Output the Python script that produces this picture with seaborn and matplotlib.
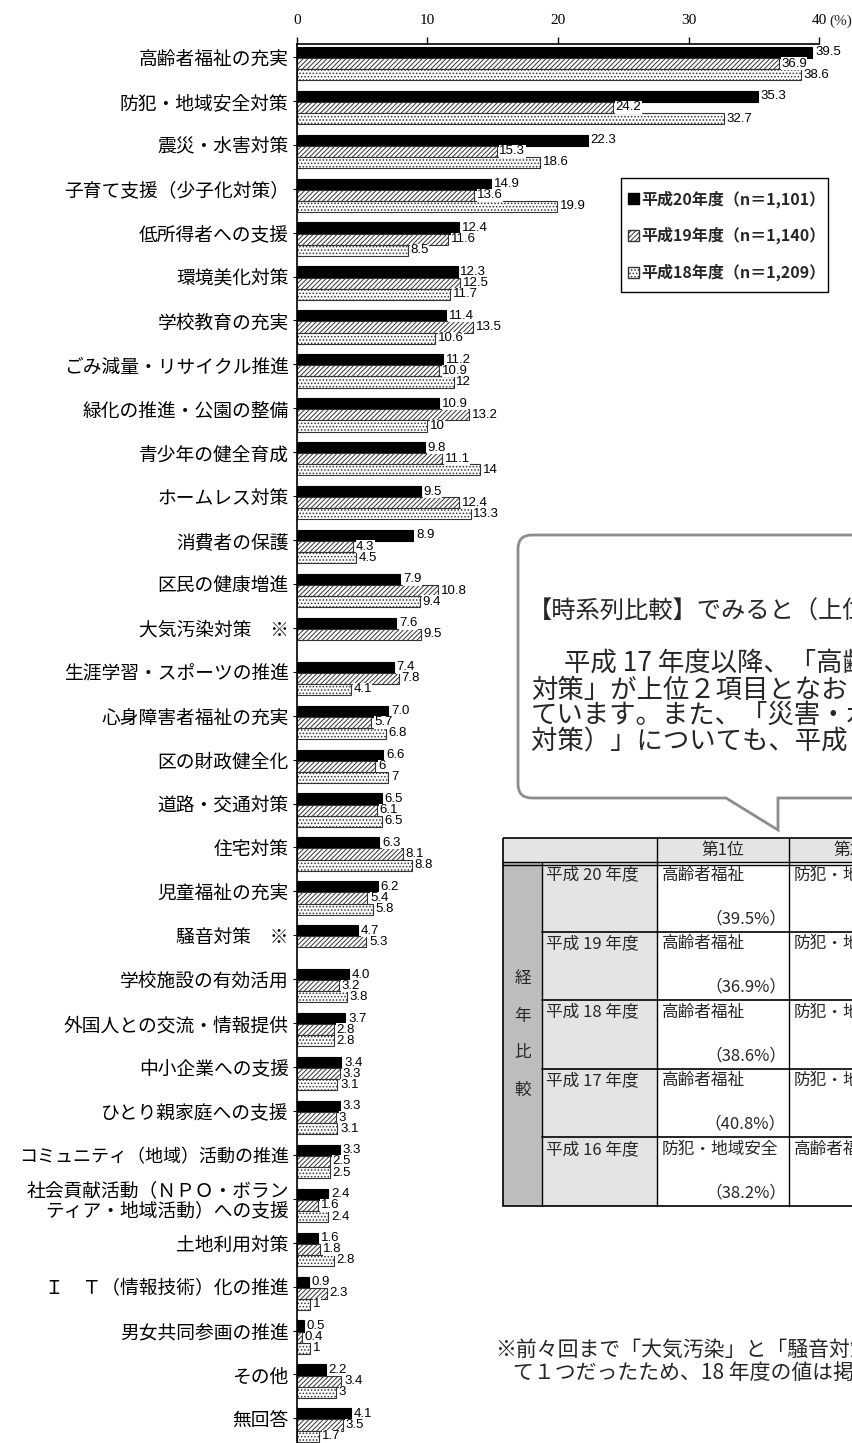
import numpy as np
import pandas as pd
import matplotlib
matplotlib.use("Agg")
import matplotlib.pyplot as plt
import seaborn as sns
from matplotlib.patches import Patch, Rectangle, PathPatch
from matplotlib.path import Path

# ---------------- data ----------------
items = [
    "高齢者福祉の充実", "防犯・地域安全対策", "震災・水害対策", "子育て支援（少子化対策）",
    "低所得者への支援", "環境美化対策", "学校教育の充実", "ごみ減量・リサイクル推進",
    "緑化の推進・公園の整備", "青少年の健全育成", "ホームレス対策", "消費者の保護",
    "区民の健康増進", "大気汚染対策　※", "生涯学習・スポーツの推進", "心身障害者福祉の充実",
    "区の財政健全化", "道路・交通対策", "住宅対策", "児童福祉の充実", "騒音対策　※",
    "学校施設の有効活用", "外国人との交流・情報提供", "中小企業への支援", "ひとり親家庭への支援",
    "コミュニティ（地域）活動の推進", "社会貢献活動（ＮＰＯ・ボラン\nティア・地域活動）への支援",
    "土地利用対策", "Ｉ　Ｔ（情報技術）化の推進", "男女共同参画の推進", "その他", "無回答",
]
v20 = [39.5, 35.3, 22.3, 14.9, 12.4, 12.3, 11.4, 11.2, 10.9, 9.8, 9.5, 8.9, 7.9, 7.6, 7.4, 7.0,
       6.6, 6.5, 6.3, 6.2, 4.7, 4.0, 3.7, 3.4, 3.3, 3.3, 2.4, 1.6, 0.9, 0.5, 2.2, 4.1]
v19 = [36.9, 24.2, 15.3, 13.6, 11.6, 12.5, 13.5, 10.9, 13.2, 11.1, 12.4, 4.3, 10.8, 9.5, 7.8, 5.7,
       6.0, 6.1, 8.1, 5.4, 5.3, 3.2, 2.8, 3.3, 3.0, 2.5, 1.6, 1.8, 2.3, 0.4, 3.4, 3.5]
v18 = [38.6, 32.7, 18.6, 19.9, 8.5, 11.7, 10.6, 12.0, 10.0, 14.0, 13.3, 4.5, 9.4, np.nan, 4.1, 6.8,
       7.0, 6.5, 8.8, 5.8, np.nan, 3.8, 2.8, 3.1, 3.1, 2.5, 2.4, 2.8, 1.0, 1.0, 3.0, 1.7]
years = ["平成20年度", "平成19年度", "平成18年度"]
legend_labels = ["平成20年度（n＝1,101）", "平成19年度（n＝1,140）", "平成18年度（n＝1,209）"]
x_ticks = [0, 10, 20, 30, 40]

callout_title = "【時系列比較】でみると（上位５項目）"
callout_lines = [
    "平成 17 年度以降、「高齢者福祉の充実」、「防犯・地域安全",
    "対策」が上位２項目となおり続けています。",
    "ています。また、「災害・水害対策（震災・水害",
    "対策）」についても、平成 17 年度以降３位となっています。",
]

table_header = ["第1位", "第2位"]
table_side = ["経", "年", "比", "較"]
table_years = ["平成 20 年度", "平成 19 年度", "平成 18 年度", "平成 17 年度", "平成 16 年度"]
rank1_items = ["高齢者福祉", "高齢者福祉", "高齢者福祉", "高齢者福祉", "防犯・地域安全"]
rank1_pct = [39.5, 36.9, 38.6, 40.8, 38.2]
rank2_items = ["防犯・地域安全", "防犯・地域安全", "防犯・地域安全", "防犯・地域安全", "高齢者福祉"]

footnote = [
    "※前々回まで「大気汚染」と「騒音対策」は「大気汚染・騒音対策」とし",
    "て１つだったため、18 年度の値は掲載していません。",
]

# ---------------- style ----------------
sns.set_theme(style="white")
plt.rcParams["font.family"] = ["Noto Sans CJK JP", "DejaVu Sans"]
plt.rcParams["hatch.linewidth"] = 0.7

W, H = 853, 1443
fig = plt.figure(figsize=(W / 100, H / 100), dpi=100)
fig.patch.set_facecolor("white")

ax_left, ax_right, ax_top = 297, 819, 44
ax = fig.add_axes([ax_left / W, 0, (ax_right - ax_left) / W, 1 - ax_top / H])

n = len(items)
df = pd.DataFrame({
    "item": items * 3,
    "year": sum([[y] * n for y in years], []),
    "value": v20 + v19 + v18,
}).dropna()

sns.barplot(data=df, x="value", y="item", hue="year", order=items, hue_order=years,
            orient="h", width=0.76, palette=["black", "white", "white"], saturation=1,
            errorbar=None, legend=False, ax=ax, edgecolor="#333333", linewidth=0.8)

hatches = [None, "///////", "....."]
fmts = [lambda v: f"{v:.1f}", lambda v: f"{v:g}", lambda v: f"{v:g}"]
for k, cont in enumerate(ax.containers):
    for p in cont.patches:
        if k == 0:
            p.set_facecolor("black")
            p.set_edgecolor("black")
        else:
            p.set_facecolor("white")
            p.set_edgecolor("#333333")
            p.set_hatch(hatches[k])
    texts = ax.bar_label(cont, fmt=fmts[k], padding=2, fontsize=9.5,
                         family="Liberation Sans", color="black")
    for t in texts:
        t.set_bbox(dict(facecolor="white", edgecolor="none", pad=0.2))
        t.set_zorder(4)

ax.set_xlim(0, 40)
ax.set_ylim(n - 1 + 0.41, -0.444)
ax.set_xlabel("")
ax.set_ylabel("")

ax.set_yticks(np.arange(n) - 0.15)
ax.set_yticklabels(items, fontsize=13.5)
for lbl in ax.get_yticklabels():
    lbl.set_linespacing(0.9)
    if len(lbl.get_text()) >= 15 and "\n" not in lbl.get_text():
        lbl.set_fontsize(13)
ax.tick_params(axis="y", left=True, length=3, width=0.8, pad=3, colors="black")

ax.set_xticks(x_ticks)
ax.set_xticklabels([str(v) for v in x_ticks])
ax.tick_params(axis="x", top=True, labeltop=True, bottom=False, labelbottom=False,
               direction="out", length=5, width=1, pad=7, labelsize=11, colors="black")
for lbl in ax.get_xticklabels():
    lbl.set_fontfamily("Liberation Serif")

for s in ["right", "bottom"]:
    ax.spines[s].set_visible(False)
for s in ["top", "left"]:
    ax.spines[s].set_color("black")
    ax.spines[s].set_linewidth(1.2)
ax.grid(False)

handles = [
    Patch(facecolor="black", edgecolor="black"),
    Patch(facecolor="white", edgecolor="#333333", hatch="///////"),
    Patch(facecolor="white", edgecolor="#333333", hatch="....."),
]
leg = ax.legend(handles, legend_labels, loc="upper left",
                bbox_to_anchor=(628 / W, 1 - 190 / H), bbox_transform=fig.transFigure,
                frameon=False,
                prop={"family": ["Noto Sans CJK JP"], "size": 11.5, "weight": "bold"},
                handlelength=0.7, handleheight=0.7, handletextpad=0.1,
                labelspacing=1.2, borderpad=0, borderaxespad=0)

# ---------------- overlay (pixel coordinates) ----------------
ov = fig.add_axes([0, 0, 1, 1], zorder=5)
ov.set_xlim(0, W)
ov.set_ylim(H, 0)
ov.axis("off")
ov.patch.set_visible(False)

# legend frame
ax.add_patch(Rectangle((621 / W, 1 - 292 / H), 207 / W, 114 / H, transform=fig.transFigure,
                       facecolor="white", edgecolor="black", lw=1.0, zorder=3, clip_on=False))
leg.set_zorder(6)

ov.text(829, 21, "(%)", fontsize=11, family="Liberation Serif", va="center", ha="left")

# callout box with pointer
L, T, R, B, r = 518, 535, 900, 798, 14
verts = [(L + r, T), (R, T), (R, B), (778, B), (778, 830), (726, B), (L + r, B),
         (L, B), (L, B - r), (L, T + r), (L, T), (L + r, T), (L + r, T)]
codes = [Path.MOVETO, Path.LINETO, Path.LINETO, Path.LINETO, Path.LINETO, Path.LINETO,
         Path.LINETO, Path.CURVE3, Path.CURVE3, Path.LINETO, Path.CURVE3, Path.CURVE3,
         Path.CLOSEPOLY]
ov.add_patch(PathPatch(Path(verts, codes), facecolor="white", edgecolor="#8c8c8c", lw=2))
ov.text(528, 612, callout_title, fontsize=17.5, va="center", ha="left")
line_x = [564, 531, 531, 531]
line_y = [664, 690, 716, 742]
for tx, ty, s in zip(line_x, line_y, callout_lines):
    ov.text(tx, ty, s, fontsize=19, va="center", ha="left")

# table
TL, C1, C2, C3, C4 = 503, 542, 657, 789, 921
HT, HB, TB = 838, 863, 1206
rows = np.linspace(HB, TB, len(table_years) + 1)
ov.add_patch(Rectangle((TL, HT), C4 - TL, HB - HT, facecolor="#e4e4e4", edgecolor="none"))
ov.add_patch(Rectangle((TL, HB), C1 - TL, TB - HB, facecolor="#bdbdbd", edgecolor="none"))
ov.add_patch(Rectangle((C1, HB), C2 - C1, TB - HB, facecolor="#e4e4e4", edgecolor="none"))
ov.add_patch(Rectangle((TL, HT), C4 - TL, TB - HT, facecolor="none", edgecolor="black", lw=1.2))
for xx in [C2, C3]:
    ov.plot([xx, xx], [HT, TB], color="black", lw=1)
ov.plot([C1, C1], [HB, TB], color="black", lw=1)
ov.plot([TL, C4], [HB - 1.5, HB - 1.5], color="black", lw=1)
ov.plot([TL, C4], [HB + 1.5, HB + 1.5], color="black", lw=1)
for yy in rows[1:-1]:
    ov.plot([C1, C4], [yy, yy], color="black", lw=1.2)

ov.text((C2 + C3) / 2, (HT + HB) / 2, table_header[0], fontsize=12, ha="center", va="center")
ov.text((C3 + C4) / 2, (HT + HB) / 2, table_header[1], fontsize=12, ha="center", va="center")
side_y = np.linspace(979, 1090, len(table_side))
for ch, yy in zip(table_side, side_y):
    ov.text((TL + C1) / 2, yy, ch, fontsize=12, ha="center", va="center")
for i in range(len(table_years)):
    top, bot = rows[i], rows[i + 1]
    ov.text(C1 + 4, top + 12, table_years[i], fontsize=12, ha="left", va="center")
    ov.text(C2 + 5, top + 12, rank1_items[i], fontsize=12, ha="left", va="center")
    ov.text(C3 - 3, bot - 13, f"（{rank1_pct[i]:.1f}%）", fontsize=12, ha="right", va="center")
    ov.text(C3 + 5, top + 12, rank2_items[i], fontsize=12, ha="left", va="center")

# footnote
ov.text(495, 1350, footnote[0], fontsize=15, ha="left", va="center")
ov.text(513, 1373, footnote[1], fontsize=15, ha="left", va="center")

fig.savefig("out.png", dpi=100)
